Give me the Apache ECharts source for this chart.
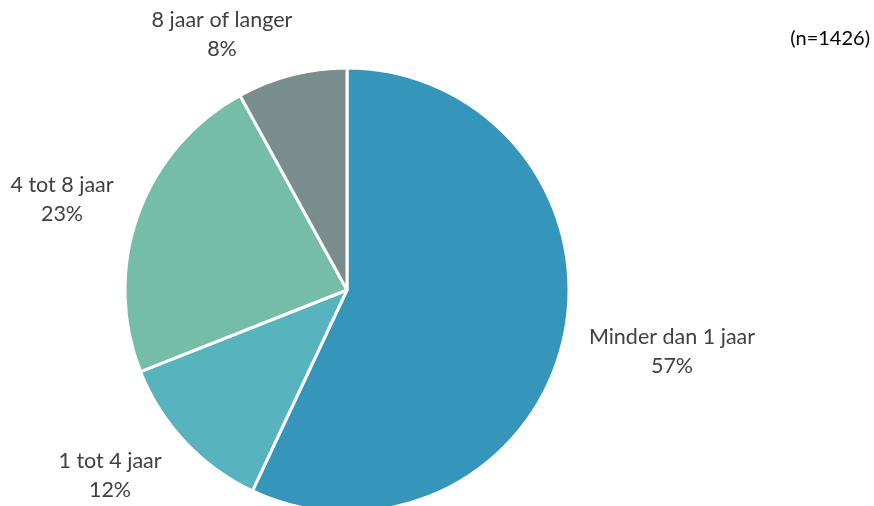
<!DOCTYPE html>
<html>
<head>
<meta charset="utf-8">
<script src="https://cdn.jsdelivr.net/npm/echarts@6/dist/echarts.min.js"></script>
<style>
  html, body { margin: 0; padding: 0; background: #fff; }
  #chart { width: 874px; height: 506px; }
</style>
</head>
<body>
<div id="chart"></div>
<script>
  // categories + shares (percent), clockwise from 12 o'clock
  var categories = ['Minder dan 1 jaar', '1 tot 4 jaar', '4 tot 8 jaar', '8 jaar of langer'];
  var shares = [57, 12, 23, 8];
  var colors = ['#3595BB', '#57B4BF', '#75BDA7', '#7A8D8D'];
  var sampleNote = '(n=1426)';

  // where the labels sit (Excel "best fit" look)
  var labelSpots = [[672, 352], [110, 476], [62, 200], [222, 35]];

  var chart = echarts.init(document.getElementById('chart'));
  chart.setOption({
    animation: false,
    textStyle: { fontFamily: 'Lato' },
    graphic: [{
      type: 'text',
      right: 4,
      top: 29,
      style: { text: sampleNote, fontSize: 20, fill: '#000', fontFamily: 'Lato' }
    }],
    series: [{
      type: 'pie',
      center: [347, 290],
      radius: ['0%', 222],
      startAngle: 90,
      clockwise: true,
      color: colors,
      itemStyle: { borderColor: '#fff', borderWidth: 3 },
      label: {
        show: true,
        position: 'outside',
        formatter: '{b}\n{d}%',
        fontSize: 21.5,
        lineHeight: 29,
        color: '#404040',
        align: 'center',
        overflow: 'none'
      },
      labelLine: { show: false },
      labelLayout: function (p) {
        var s = labelSpots[p.dataIndex];
        return { x: s[0], y: s[1], align: 'center', verticalAlign: 'middle' };
      },
      data: categories.map(function (c, i) {
        return { name: c, value: shares[i] };
      })
    }]
  });
</script>
</body>
</html>
